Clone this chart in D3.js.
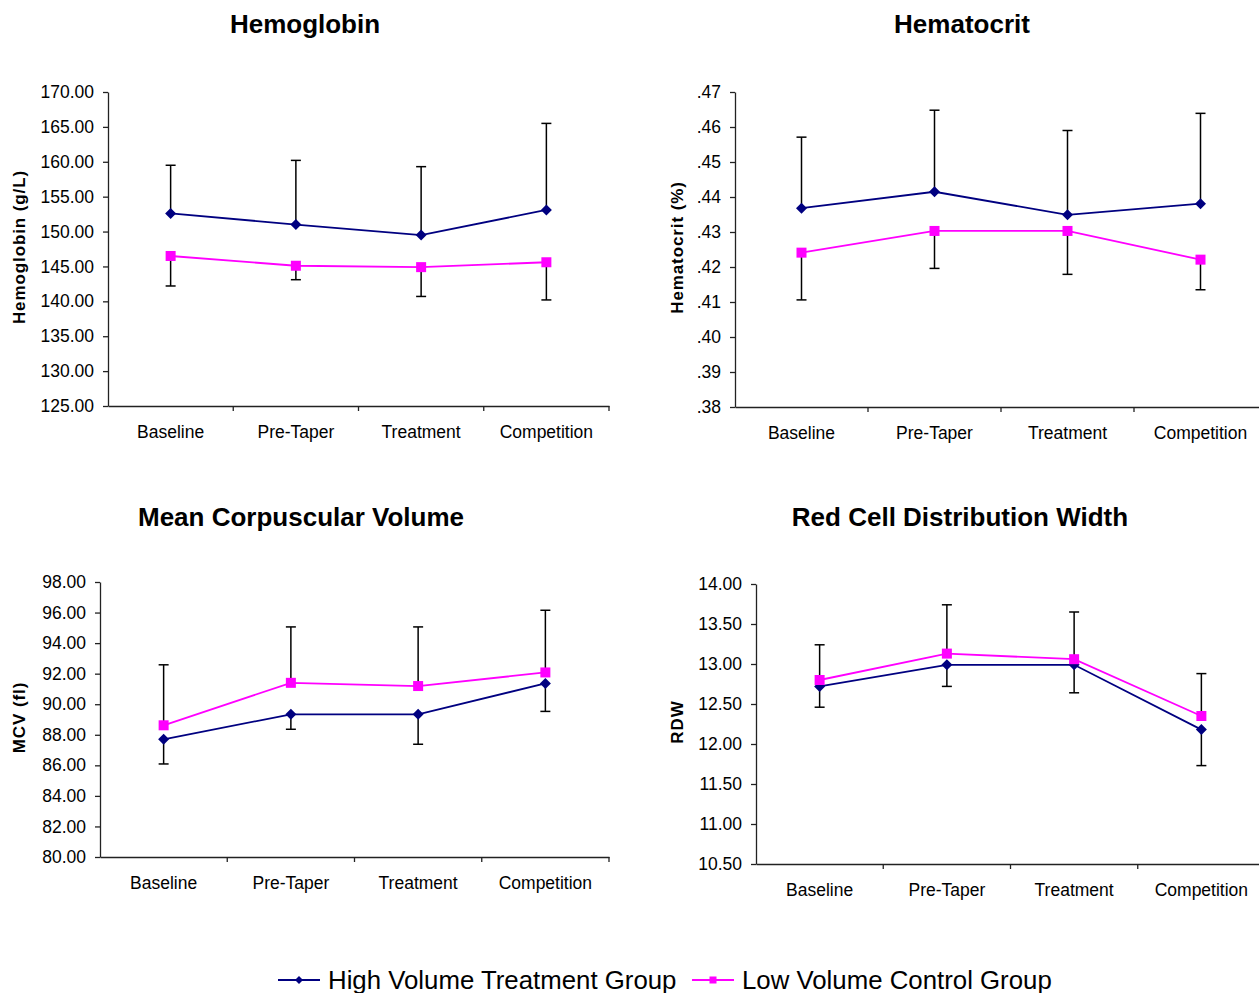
<!DOCTYPE html>
<html>
<head>
<meta charset="utf-8">
<script src="https://cdn.jsdelivr.net/npm/d3@7"></script>
<style>
  body { margin: 0; background: #fff; }
  text { font-family: "Liberation Sans", Arial, sans-serif; }
</style>
</head>
<body>
<div id="chart"></div>
<script>
// values
var categories = ["Baseline", "Pre-Taper", "Treatment", "Competition"];

var hgbHigh = [152.6, 151.0, 149.5, 153.1];
var hgbHighErr = [6.9, 9.2, 9.8, 12.4];
var hgbLow = [146.5, 145.1, 144.9, 145.6];
var hgbLowErr = [4.3, 2.0, 4.2, 5.4];

var hctHigh = [.4368, .4415, .4349, .4381];
var hctHighErr = [.0203, .0233, .0241, .0258];
var hctLow = [.4241, .4303, .4303, .4221];
var hctLowErr = [.0135, .0107, .0124, .0086];

var mcvHigh = [87.70, 89.34, 89.34, 91.36];
var mcvHighErr = [1.61, 0.98, 1.96, 1.83];
var mcvLow = [88.62, 91.40, 91.19, 92.08];
var mcvLowErr = [3.96, 3.66, 3.87, 4.07];

var rdwHigh = [12.72, 12.99, 12.99, 12.18];
var rdwHighErr = [0.26, 0.27, 0.35, 0.45];
var rdwLow = [12.80, 13.13, 13.06, 12.35];
var rdwLowErr = [0.44, 0.61, 0.59, 0.53];

var hgbTicks = d3.range(125, 170.01, 5);
var hctTicks = d3.range(38, 47.01, 1).map(function (d) { return d / 100; });
var mcvTicks = d3.range(80, 98.01, 2);
var rdwTicks = d3.range(10.5, 14.01, 0.5);

var seriesNames = ["High Volume Treatment Group", "Low Volume Control Group"];
var navy = "#000080", magenta = "#ff00ff";

var svg = d3.select("#chart")
    .append("svg")
    .attr("width", 1259)
    .attr("height", 993);

var fmt2 = d3.format(".2f");

var panels = [
    { title: "Hemoglobin", ylab: "Hemoglobin (g/L)", tx: 305, ty: 33, lx: 19,
      left: 108, right: 609, top: 92, bottom: 406, ticks: hgbTicks, fmt: fmt2,
      high: hgbHigh, highErr: hgbHighErr, low: hgbLow, lowErr: hgbLowErr, highUp: true },
    { title: "Hematocrit", ylab: "Hematocrit (%)", tx: 962, ty: 33, lx: 677,
      left: 735, right: 1267, top: 92, bottom: 407, ticks: hctTicks,
      fmt: function (d) { return fmt2(d).replace(/^0/, ""); },
      high: hctHigh, highErr: hctHighErr, low: hctLow, lowErr: hctLowErr, highUp: true },
    { title: "Mean Corpuscular Volume", ylab: "MCV (fl)", tx: 301, ty: 526, lx: 19,
      left: 100, right: 609, top: 582, bottom: 857, ticks: mcvTicks, fmt: fmt2,
      high: mcvHigh, highErr: mcvHighErr, low: mcvLow, lowErr: mcvLowErr, highUp: false },
    { title: "Red Cell Distribution Width", ylab: "RDW", tx: 960, ty: 526, lx: 677,
      left: 756, right: 1265, top: 584, bottom: 864, ticks: rdwTicks, fmt: fmt2,
      high: rdwHigh, highErr: rdwHighErr, low: rdwLow, lowErr: rdwLowErr, highUp: false }
];

function diamond(g, x, y, r, color) {
    g.append("path")
        .attr("d", "M" + x + "," + (y - r) + "L" + (x + r) + "," + y + "L" + x + "," + (y + r) + "L" + (x - r) + "," + y + "Z")
        .attr("fill", color);
}

function square(g, x, y, s, color) {
    g.append("rect")
        .attr("x", x - s / 2).attr("y", y - s / 2)
        .attr("width", s).attr("height", s)
        .attr("fill", color);
}

panels.forEach(function (p) {
    var g = svg.append("g");

    var x = d3.scaleBand().domain(categories).range([p.left, p.right]).padding(0);
    var y = d3.scaleLinear().domain([p.ticks[0], p.ticks[p.ticks.length - 1]]).range([p.bottom, p.top]);

    g.append("text")
        .attr("x", p.tx).attr("y", p.ty)
        .attr("text-anchor", "middle")
        .attr("font-size", 26).attr("font-weight", "bold")
        .text(p.title);

    g.append("text")
        .attr("transform", "translate(" + (p.lx + 6) + "," + ((p.top + p.bottom) / 2 - 2) + ") rotate(-90)")
        .attr("text-anchor", "middle")
        .attr("font-size", 17).attr("font-weight", "bold")
        .attr("letter-spacing", 0.9)
        .text(p.ylab);

    // y axis
    var ya = g.append("g")
        .attr("transform", "translate(" + p.left + ",0)")
        .call(d3.axisLeft(y).tickValues(p.ticks).tickFormat(p.fmt).tickSize(5).tickPadding(9).tickSizeOuter(0));
    ya.selectAll("text").attr("font-size", 17.5).attr("fill", "#000").style("font-family", "Liberation Sans, Arial, sans-serif");
    ya.selectAll("line, path").attr("stroke", "#222").attr("stroke-width", 1.3);

    // x axis: labels at band centres, ticks at band edges
    var xa = g.append("g")
        .attr("transform", "translate(0," + p.bottom + ")")
        .call(d3.axisBottom(x).tickSize(0).tickPadding(20).tickSizeOuter(0));
    xa.selectAll("text").attr("font-size", 17.5).attr("fill", "#000").style("font-family", "Liberation Sans, Arial, sans-serif");
    xa.select("path").attr("stroke", "#222").attr("stroke-width", 1.3);
    var edges = categories.map(function (c) { return x(c); }).concat([p.right]);
    xa.selectAll(".edge").data(edges.slice(1)).enter().append("line")
        .attr("x1", function (d) { return d; }).attr("x2", function (d) { return d; })
        .attr("y1", 0).attr("y2", 5)
        .attr("stroke", "#222").attr("stroke-width", 1.3);

    var cx = function (i) { return x(categories[i]) + x.bandwidth() / 2; };
    var line = d3.line().x(function (d, i) { return cx(i); }).y(function (d) { return y(d); });

    // error bars
    function errBars(vals, errs, up) {
        vals.forEach(function (v, i) {
            var e = up ? v + errs[i] : v - errs[i];
            g.append("line")
                .attr("x1", cx(i)).attr("x2", cx(i))
                .attr("y1", y(v)).attr("y2", y(e))
                .attr("stroke", "#000").attr("stroke-width", 1.5);
            g.append("line")
                .attr("x1", cx(i) - 5).attr("x2", cx(i) + 5)
                .attr("y1", y(e)).attr("y2", y(e))
                .attr("stroke", "#000").attr("stroke-width", 1.5);
        });
    }
    errBars(p.high, p.highErr, p.highUp);
    errBars(p.low, p.lowErr, !p.highUp);

    g.append("path").datum(p.high).attr("d", line)
        .attr("fill", "none").attr("stroke", navy).attr("stroke-width", 1.8);
    g.append("path").datum(p.low).attr("d", line)
        .attr("fill", "none").attr("stroke", magenta).attr("stroke-width", 1.8);

    p.high.forEach(function (v, i) { diamond(g, cx(i), y(v), 5.5, navy); });
    p.low.forEach(function (v, i) { square(g, cx(i), y(v), 10, magenta); });
});

// legend
var leg = svg.append("g");
var legItems = [
    { name: seriesNames[0], color: navy, x: 278, mark: "diamond" },
    { name: seriesNames[1], color: magenta, x: 692, mark: "square" }
];
legItems.forEach(function (d) {
    leg.append("line")
        .attr("x1", d.x).attr("x2", d.x + 42)
        .attr("y1", 980).attr("y2", 980)
        .attr("stroke", d.color).attr("stroke-width", 2);
    if (d.mark == "diamond") {
        diamond(leg, d.x + 21, 980, 4, d.color);
    } else {
        square(leg, d.x + 21, 980, 7, d.color);
    }
    leg.append("text")
        .attr("x", d.x + 50).attr("y", 989)
        .attr("font-size", 25.8)
        .attr("fill", "#000")
        .text(d.name);
});
</script>
</body>
</html>
